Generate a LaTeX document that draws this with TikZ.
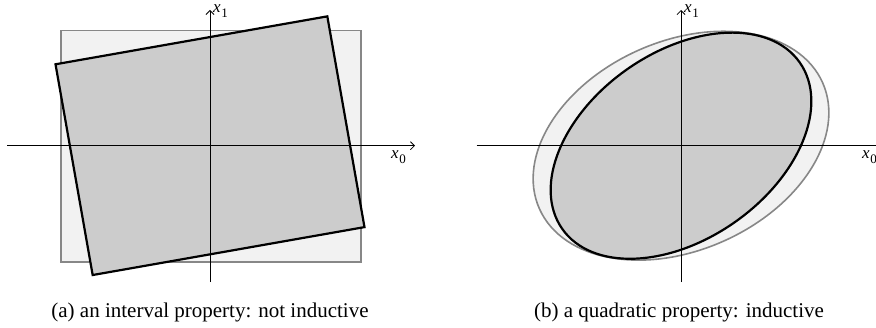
\documentclass[tikz,border=0pt]{standalone}
\usepackage{fontspec}
\setmainfont{Liberation Serif}
\usetikzlibrary{arrows.meta, positioning, calc}

% axis label: italic x with a lowered index
\newcommand{\axlbl}[1]{\textit{x}\kern0.6pt\raisebox{-4.8pt}{\fontsize{13}{14}\selectfont #1}}

\begin{document}
\begin{tikzpicture}[x=1pt, y=1pt,
    axis/.style={-{Straight Barb[length=4pt, width=8pt]}, line width=0.8pt},
    outerset/.style={draw=black!47, fill=black!5, line width=1.6pt},
    innerset/.style={draw=black, fill=black!20, line width=2.2pt},
    lbl/.style={font=\fontsize{17}{19}\selectfont, inner sep=0pt},
    caption/.style={font=\fontsize{21}{25}\selectfont, inner sep=0pt, anchor=base}]
    \useasboundingbox (0,0) rectangle (876,327);

    % (a) intervalli
    \begin{scope}[shift={(210,181.3)}]
        \draw[outerset] (-149,-116) rectangle (151,115);
        \draw[innerset, rotate=10] (-138,-107) rectangle (138,107);
        \coordinate (aW) at (-203,0);
        \coordinate (aE) at (205,0);
        \coordinate (aS) at (0,-136.3);
        \coordinate (aN) at (0,135.7);
        \draw[axis] (aW) -- (aE);
        \draw[axis] (aS) -- (aN);
        \node[lbl, anchor=base west, xshift=3pt, yshift=-3pt] (aX1) at (aN) {\axlbl{1}};
        \node[lbl, anchor=base east, xshift=-9pt, yshift=-13.3pt] (aX0) at (aE) {\axlbl{0}};
    \end{scope}

    % (b) ellissi
    \begin{scope}[shift={(681,181.3)}]
        \draw[outerset, rotate=24] (0,0) ellipse (155 and 104.5);
        \draw[innerset, rotate=35] (0,0) ellipse (145 and 93.5);
        \coordinate (bW) at (-204.3,0);
        \coordinate (bE) at (205,0);
        \coordinate (bS) at (0,-136.3);
        \coordinate (bN) at (0,135.7);
        \draw[axis] (bW) -- (bE);
        \draw[axis] (bS) -- (bN);
        \node[lbl, anchor=base west, xshift=3pt, yshift=-3pt] (bX1) at (bN) {\axlbl{1}};
        \node[lbl, anchor=base east, xshift=-9pt, yshift=-13.3pt] (bX0) at (bE) {\axlbl{0}};
    \end{scope}

    % didascalie
    \node[caption] (capA) at (210,9.5) {(a) an interval property: not inductive};
    \node[caption] (capB) at (679,9.5) {(b) a quadratic property: inductive};
\end{tikzpicture}
\end{document}
